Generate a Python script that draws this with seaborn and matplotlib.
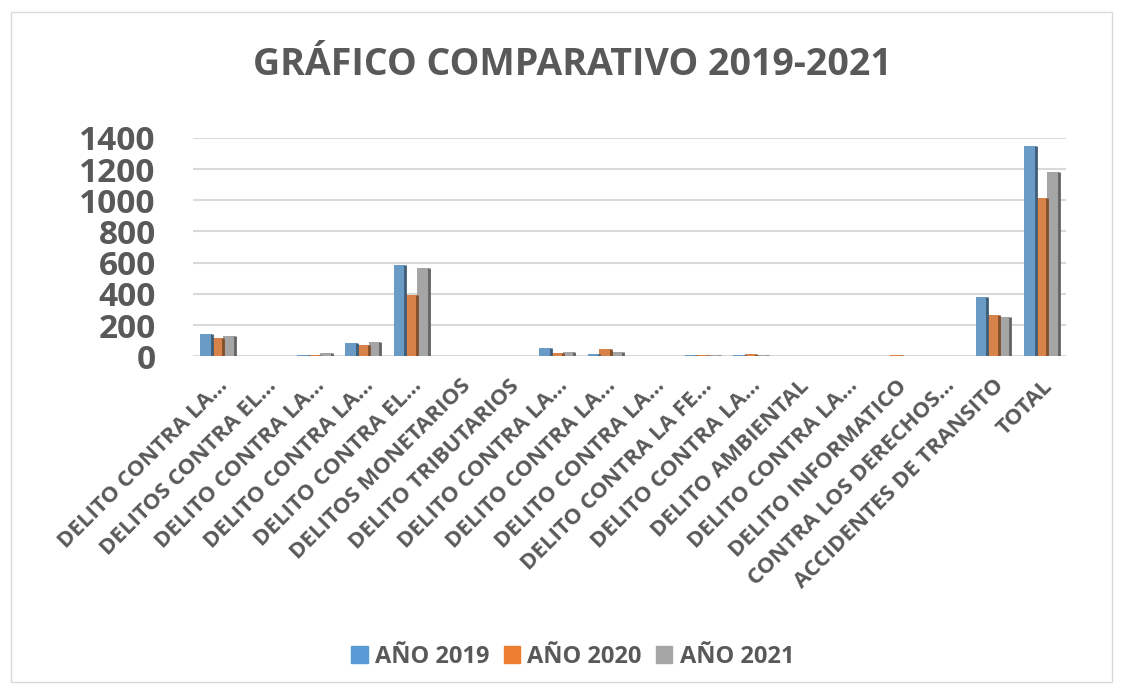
import pandas as pd
import numpy as np
import seaborn as sns
import matplotlib.pyplot as plt

categorias = [
    "DELITO CONTRA LA...", "DELITOS CONTRA EL...", "DELITO CONTRA LA...",
    "DELITO CONTRA LA...", "DELITO CONTRA EL...", "DELITOS MONETARIOS",
    "DELITO TRIBUTARIOS", "DELITO CONTRA LA...", "DELITO CONTRA LA...",
    "DELITO CONTRA LA...", "DELITO CONTRA LA FE...", "DELITO CONTRA LA...",
    "DELITO AMBIENTAL", "DELITO CONTRA LA...", "DELITO INFORMATICO",
    "CONTRA LOS DERECHOS...", "ACCIDENTES DE TRANSITO", "TOTAL",
]
anio_2019 = [145, 2, 10, 85, 585, 0, 0, 50, 15, 2, 5, 8, 3, 1, 2, 1, 380, 1350]
anio_2020 = [115, 1, 10, 75, 395, 0, 0, 20, 45, 2, 10, 15, 3, 1, 5, 1, 265, 1015]
anio_2021 = [130, 1, 20, 90, 565, 0, 0, 30, 25, 1, 5, 5, 1, 1, 2, 1, 250, 1180]
series = ["AÑO 2019", "AÑO 2020", "AÑO 2021"]
colores = ["#5B9BD5", "#ED7D31", "#A5A5A5"]

# las etiquetas se repiten, así que el eje usa un índice
ids = list(range(len(categorias)))
df = pd.DataFrame({
    "id": ids * 3,
    "valor": anio_2019 + anio_2020 + anio_2021,
    "serie": [s for s in series for _ in ids],
})

sns.set_style("white")
plt.rcParams["font.family"] = ["Open Sans", "DejaVu Sans"]
gris = "#595959"

fig = plt.figure(figsize=(11.23, 6.89), dpi=100)
ax = fig.add_axes([0.172, 0.483, 0.777, 0.317])

sns.barplot(data=df, x="id", y="valor", hue="serie", palette=colores,
            width=0.72, ax=ax, legend=False, edgecolor="none")

# cara lateral oscura para imitar el 3D
for patch in ax.patches:
    if patch.get_height() > 0:
        c = np.array(patch.get_facecolor()[:3]) * 0.6
        x0 = patch.get_x() + patch.get_width()
        ax.plot([x0, x0], [0, patch.get_height()], color=c, lw=2, zorder=3,
                solid_capstyle="butt")

ax.set_ylim(0, 1400)
ax.set_xlim(-0.5, len(categorias) - 0.5)
ax.set_yticks(range(0, 1401, 200))
ax.yaxis.grid(True, color="#D9D9D9", lw=1.5)
ax.set_axisbelow(True)
for s in ax.spines.values():
    s.set_visible(False)
ax.set_xlabel("")
ax.set_ylabel("")
ax.tick_params(axis="y", labelsize=24, labelcolor=gris, length=0, pad=27)
for t in ax.get_yticklabels():
    t.set_fontweight("bold")
ax.set_xticks(ids)
ax.set_xticklabels(categorias, rotation=45, ha="right", rotation_mode="anchor",
                   fontsize=16, fontweight="bold", color=gris)
ax.tick_params(axis="x", length=0, pad=14)

fig.text(0.51, 0.906, "GRÁFICO COMPARATIVO 2019-2021", ha="center",
         va="center", fontsize=27, fontweight="bold", color=gris)

handles = [plt.Rectangle((0, 0), 1, 1, color=c) for c in colores]
fig.legend(handles, series, loc="center", bbox_to_anchor=(0.51, 0.047), ncol=3,
           frameon=False, handlelength=0.7, handleheight=0.7, handletextpad=0.3,
           columnspacing=0.6, prop={"size": 17, "weight": "bold"}, labelcolor=gris)

fig.patches.append(plt.Rectangle((0.01, 0.01), 0.98, 0.973, transform=fig.transFigure,
                                 fill=False, edgecolor="#D9D9D9", lw=1))

fig.savefig("out.png", dpi=100)
